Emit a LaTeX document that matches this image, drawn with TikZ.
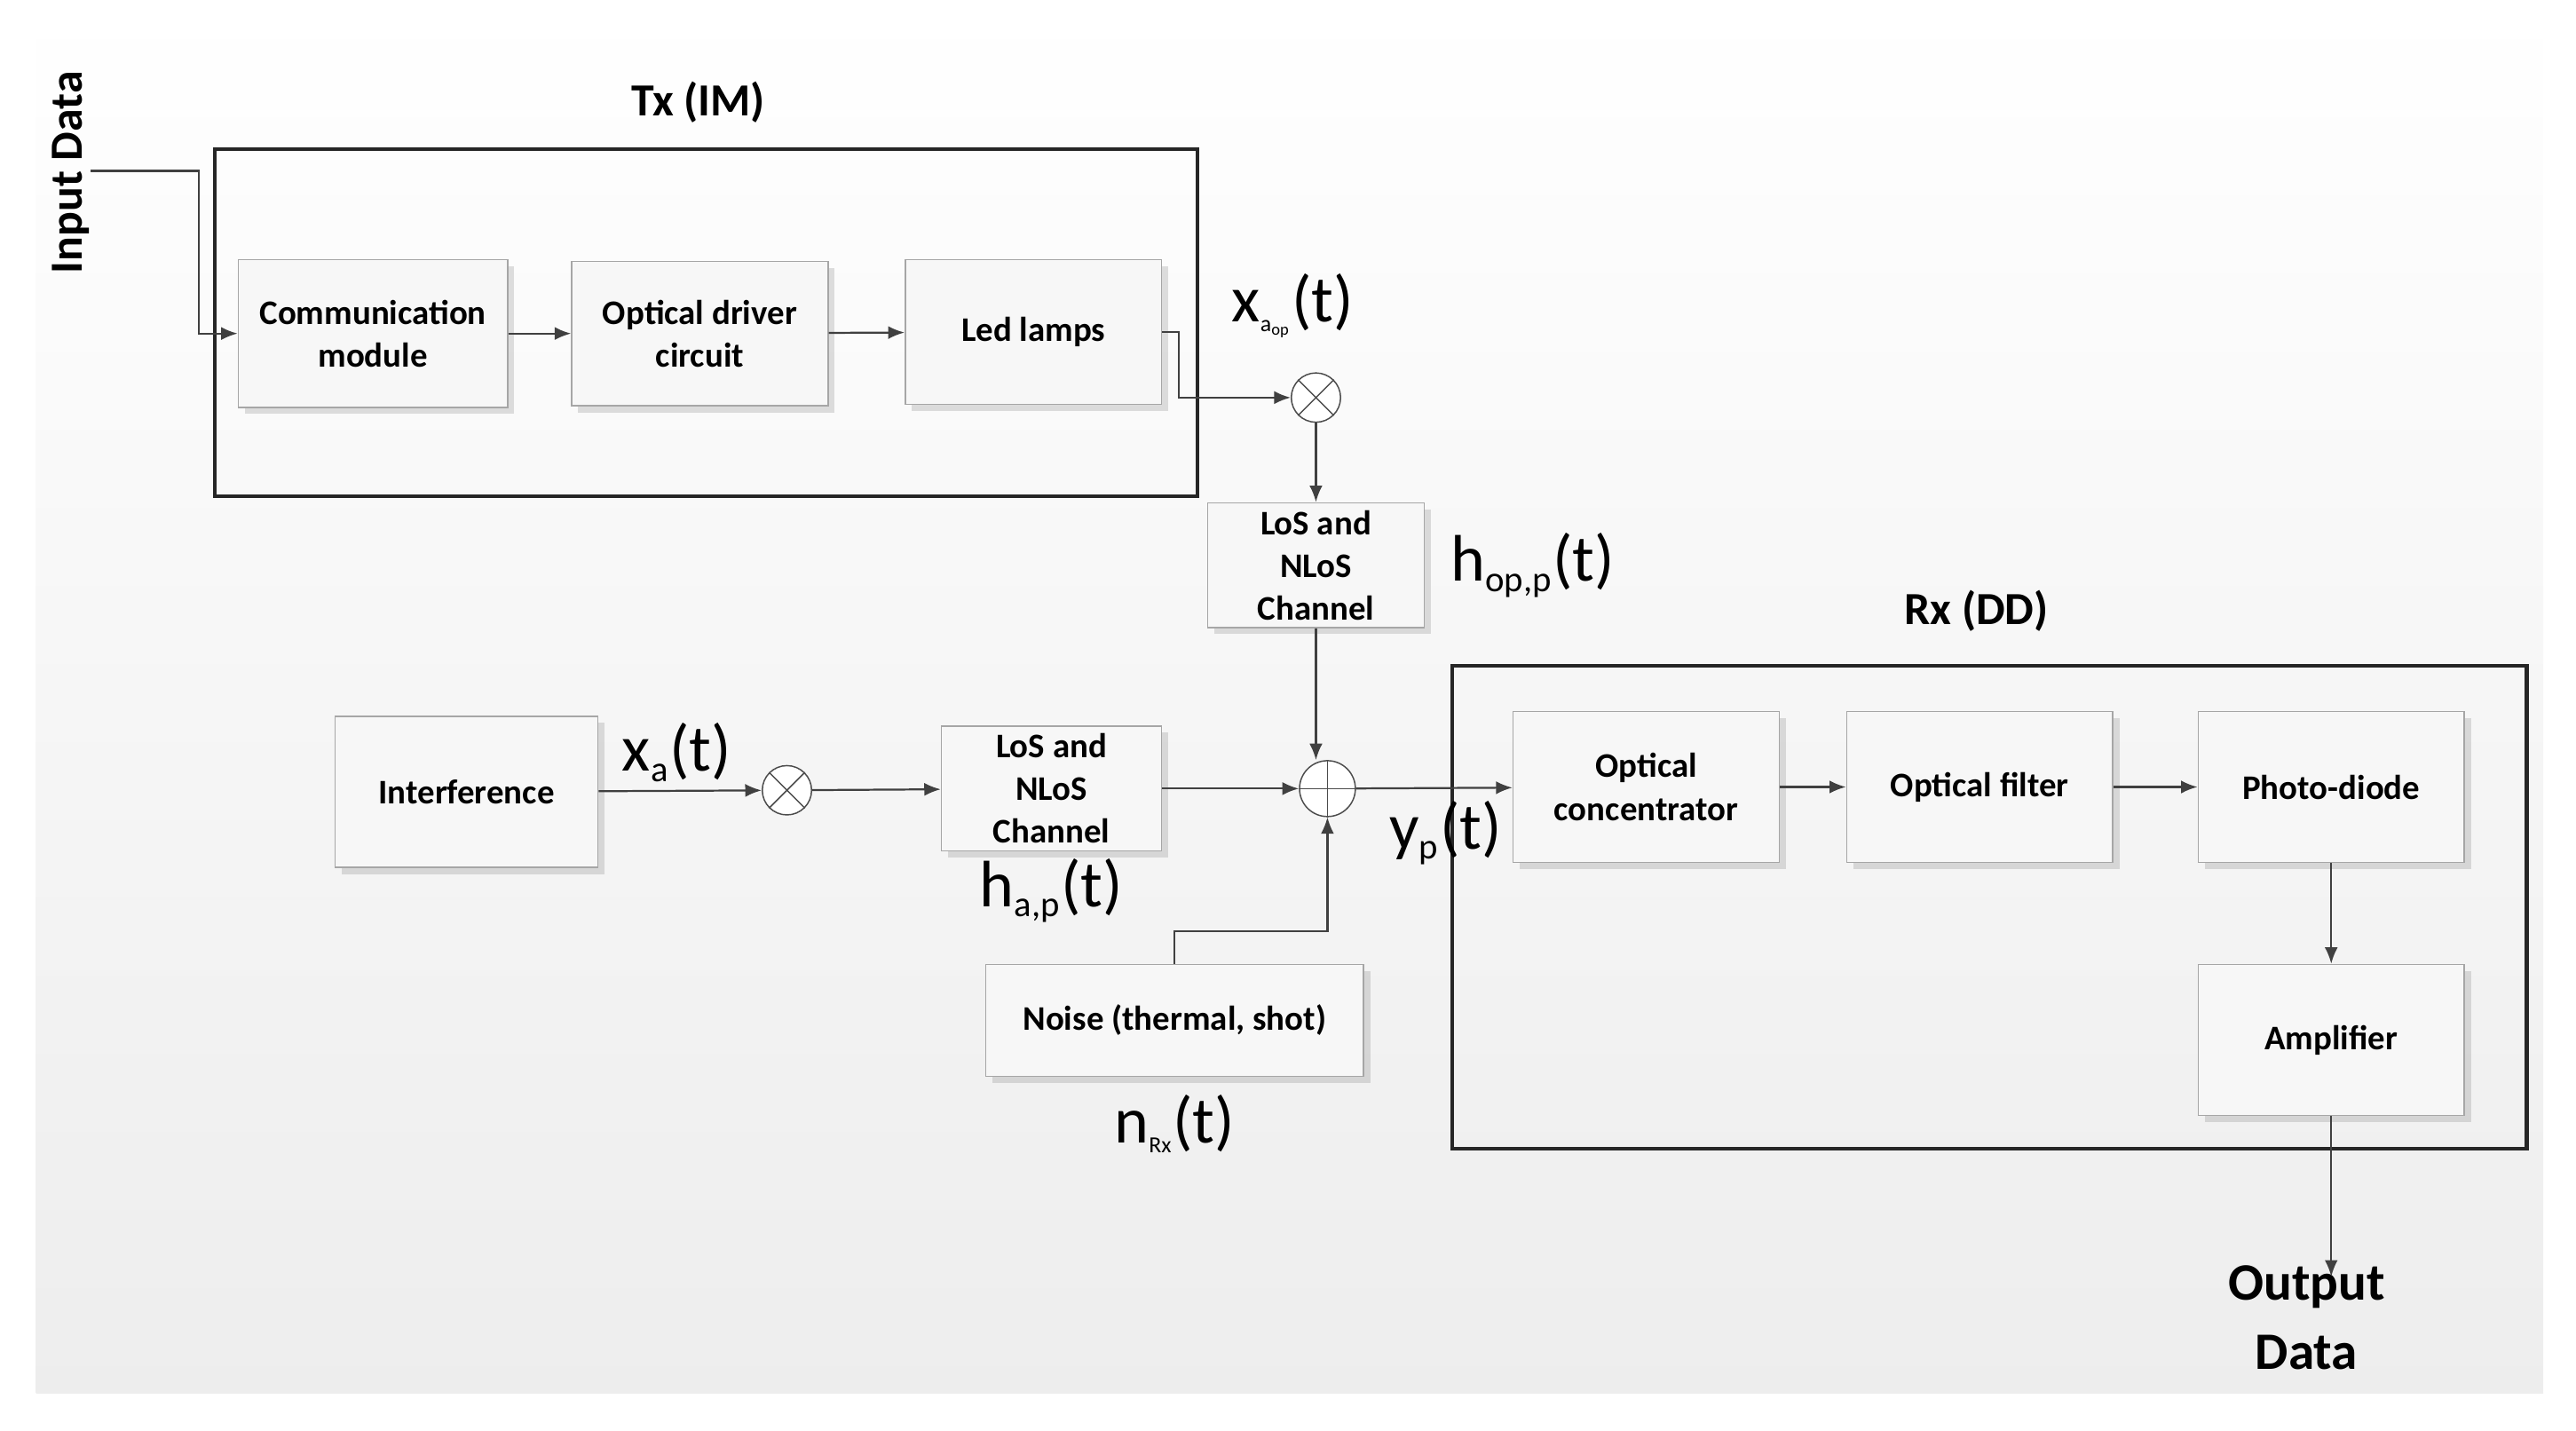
\documentclass[tikz,border=0pt]{standalone}
\usepackage{fontspec}
\setmainfont{Carlito}
\usetikzlibrary{shapes.geometric,arrows.meta,positioning,shadows}
\tikzset{
  blk/.style={draw=gray!70,fill=gray!6,drop shadow={opacity=0.25,shadow xshift=2pt,shadow yshift=-2pt},
    align=center,font=\bfseries\fontsize{10.5}{13}\selectfont,inner sep=0pt},
  frame/.style={draw=black!85,line width=1.1pt},
  flow/.style={draw=black!75,line width=0.6pt,-{Latex[length=5pt,width=4pt]}},
  sig/.style={font=\fontsize{20}{22}\selectfont},
  ttl/.style={font=\bfseries\fontsize{14}{16}\selectfont},
  mix/.style={circle,draw=black!70,fill=white,minimum size=15pt,inner sep=0pt}
}
\begin{document}
\begin{tikzpicture}[x=0.5pt,y=-0.5pt]
\useasboundingbox (0,0) rectangle (1568,870.5);
\shade[top color=white,bottom color=gray!14] (22,0) rectangle (1548,848);
% transmitter
\draw[frame] (131,91) rectangle (729,302);
\node[ttl] (txt) at (425,62) {Tx (IM)};
\node[blk,minimum width=82pt,minimum height=45pt] (comm) at (227,203) {Communication\\module};
\node[blk,minimum width=78pt,minimum height=44pt] (drv) at (426,203) {Optical driver\\circuit};
\node[blk,minimum width=78pt,minimum height=44pt] (led) at (629,202) {Led lamps};
\node[ttl,rotate=90] (inp) at (43,105) {Input Data};
\coordinate (in0) at (55,104);
\draw[flow] (in0) -| (121,203) -- (comm);
\draw[flow] (comm) -- (drv);
\draw[flow] (drv) -- (led);
\node[mix] (m1) at (801,242) {};
\draw[black!70] (m1.north west) -- (m1.south east) (m1.north east) -- (m1.south west);
\draw[flow] (led.east) -- ++(10,0) |- (m1);
\node[sig] (xaop) at (787,186) {x\textsubscript{\fontsize{7}{8}\selectfont a\textsubscript{op}}(t)};
\node[blk,minimum width=66pt,minimum height=38pt] (ch1) at (801,344) {LoS and\\NLoS\\Channel};
\node[sig] (hop) at (933,344) {h\textsubscript{\fontsize{11}{12}\selectfont op,p}(t)};
\draw[flow] (m1) -- (ch1);
% interference path
\node[blk,minimum width=80pt,minimum height=46pt] (intf) at (284,482) {Interference};
\node[sig] (xa) at (412,458) {x\textsubscript{\fontsize{11}{12}\selectfont a}(t)};
\node[mix] (m2) at (479,481) {};
\draw[black!70] (m2.north west) -- (m2.south east) (m2.north east) -- (m2.south west);
\draw[flow] (intf) -- (m2);
\node[blk,minimum width=67pt,minimum height=38pt] (ch2) at (640,480) {LoS and\\NLoS\\Channel};
\node[sig] (hap) at (640,542) {h\textsubscript{\fontsize{11}{12}\selectfont a,p}(t)};
\draw[flow] (m2) -- (ch2);
\node[circle,draw=black!70,fill=white,minimum size=17pt,inner sep=0pt] (add) at (808,480) {};
\draw[black!70] (add.north) -- (add.south) (add.west) -- (add.east);
\draw[flow] (ch2) -- (add);
\draw[flow] (ch1.south) -- (ch1.south |- add.north);
\node[blk,minimum width=115pt,minimum height=34pt] (noise) at (715,621) {Noise (thermal, shot)};
\node[sig] (nrx) at (715,684) {n\textsubscript{\fontsize{7}{8}\selectfont Rx}(t)};
\draw[flow] (noise.north) -- ++(0,-20) -| (add);
% receiver
\draw[frame] (884,405) rectangle (1538,699);
\node[ttl] (rxt) at (1203,372) {Rx (DD)};
\node[blk,minimum width=81pt,minimum height=46pt] (conc) at (1002,479) {Optical\\concentrator};
\node[sig] (yp) at (880,507) {y\textsubscript{\fontsize{11}{12}\selectfont p}(t)};
\draw[flow] (add) -- (conc);
\node[blk,minimum width=81pt,minimum height=46pt] (filt) at (1205,479) {Optical filter};
\node[blk,minimum width=81pt,minimum height=46pt] (pd) at (1419,479) {Photo-diode};
\node[blk,minimum width=81pt,minimum height=46pt] (amp) at (1419,633) {Amplifier};
\draw[flow] (conc) -- (filt);
\draw[flow] (filt) -- (pd);
\draw[flow] (pd) -- (amp);
\node[ttl,align=center,font=\bfseries\fontsize{16}{21}\selectfont] (out) at (1404,802) {Output\\Data};
\coordinate (oend) at (1419,777);
\draw[flow] (amp) -- (oend);
\end{tikzpicture}
\end{document}
